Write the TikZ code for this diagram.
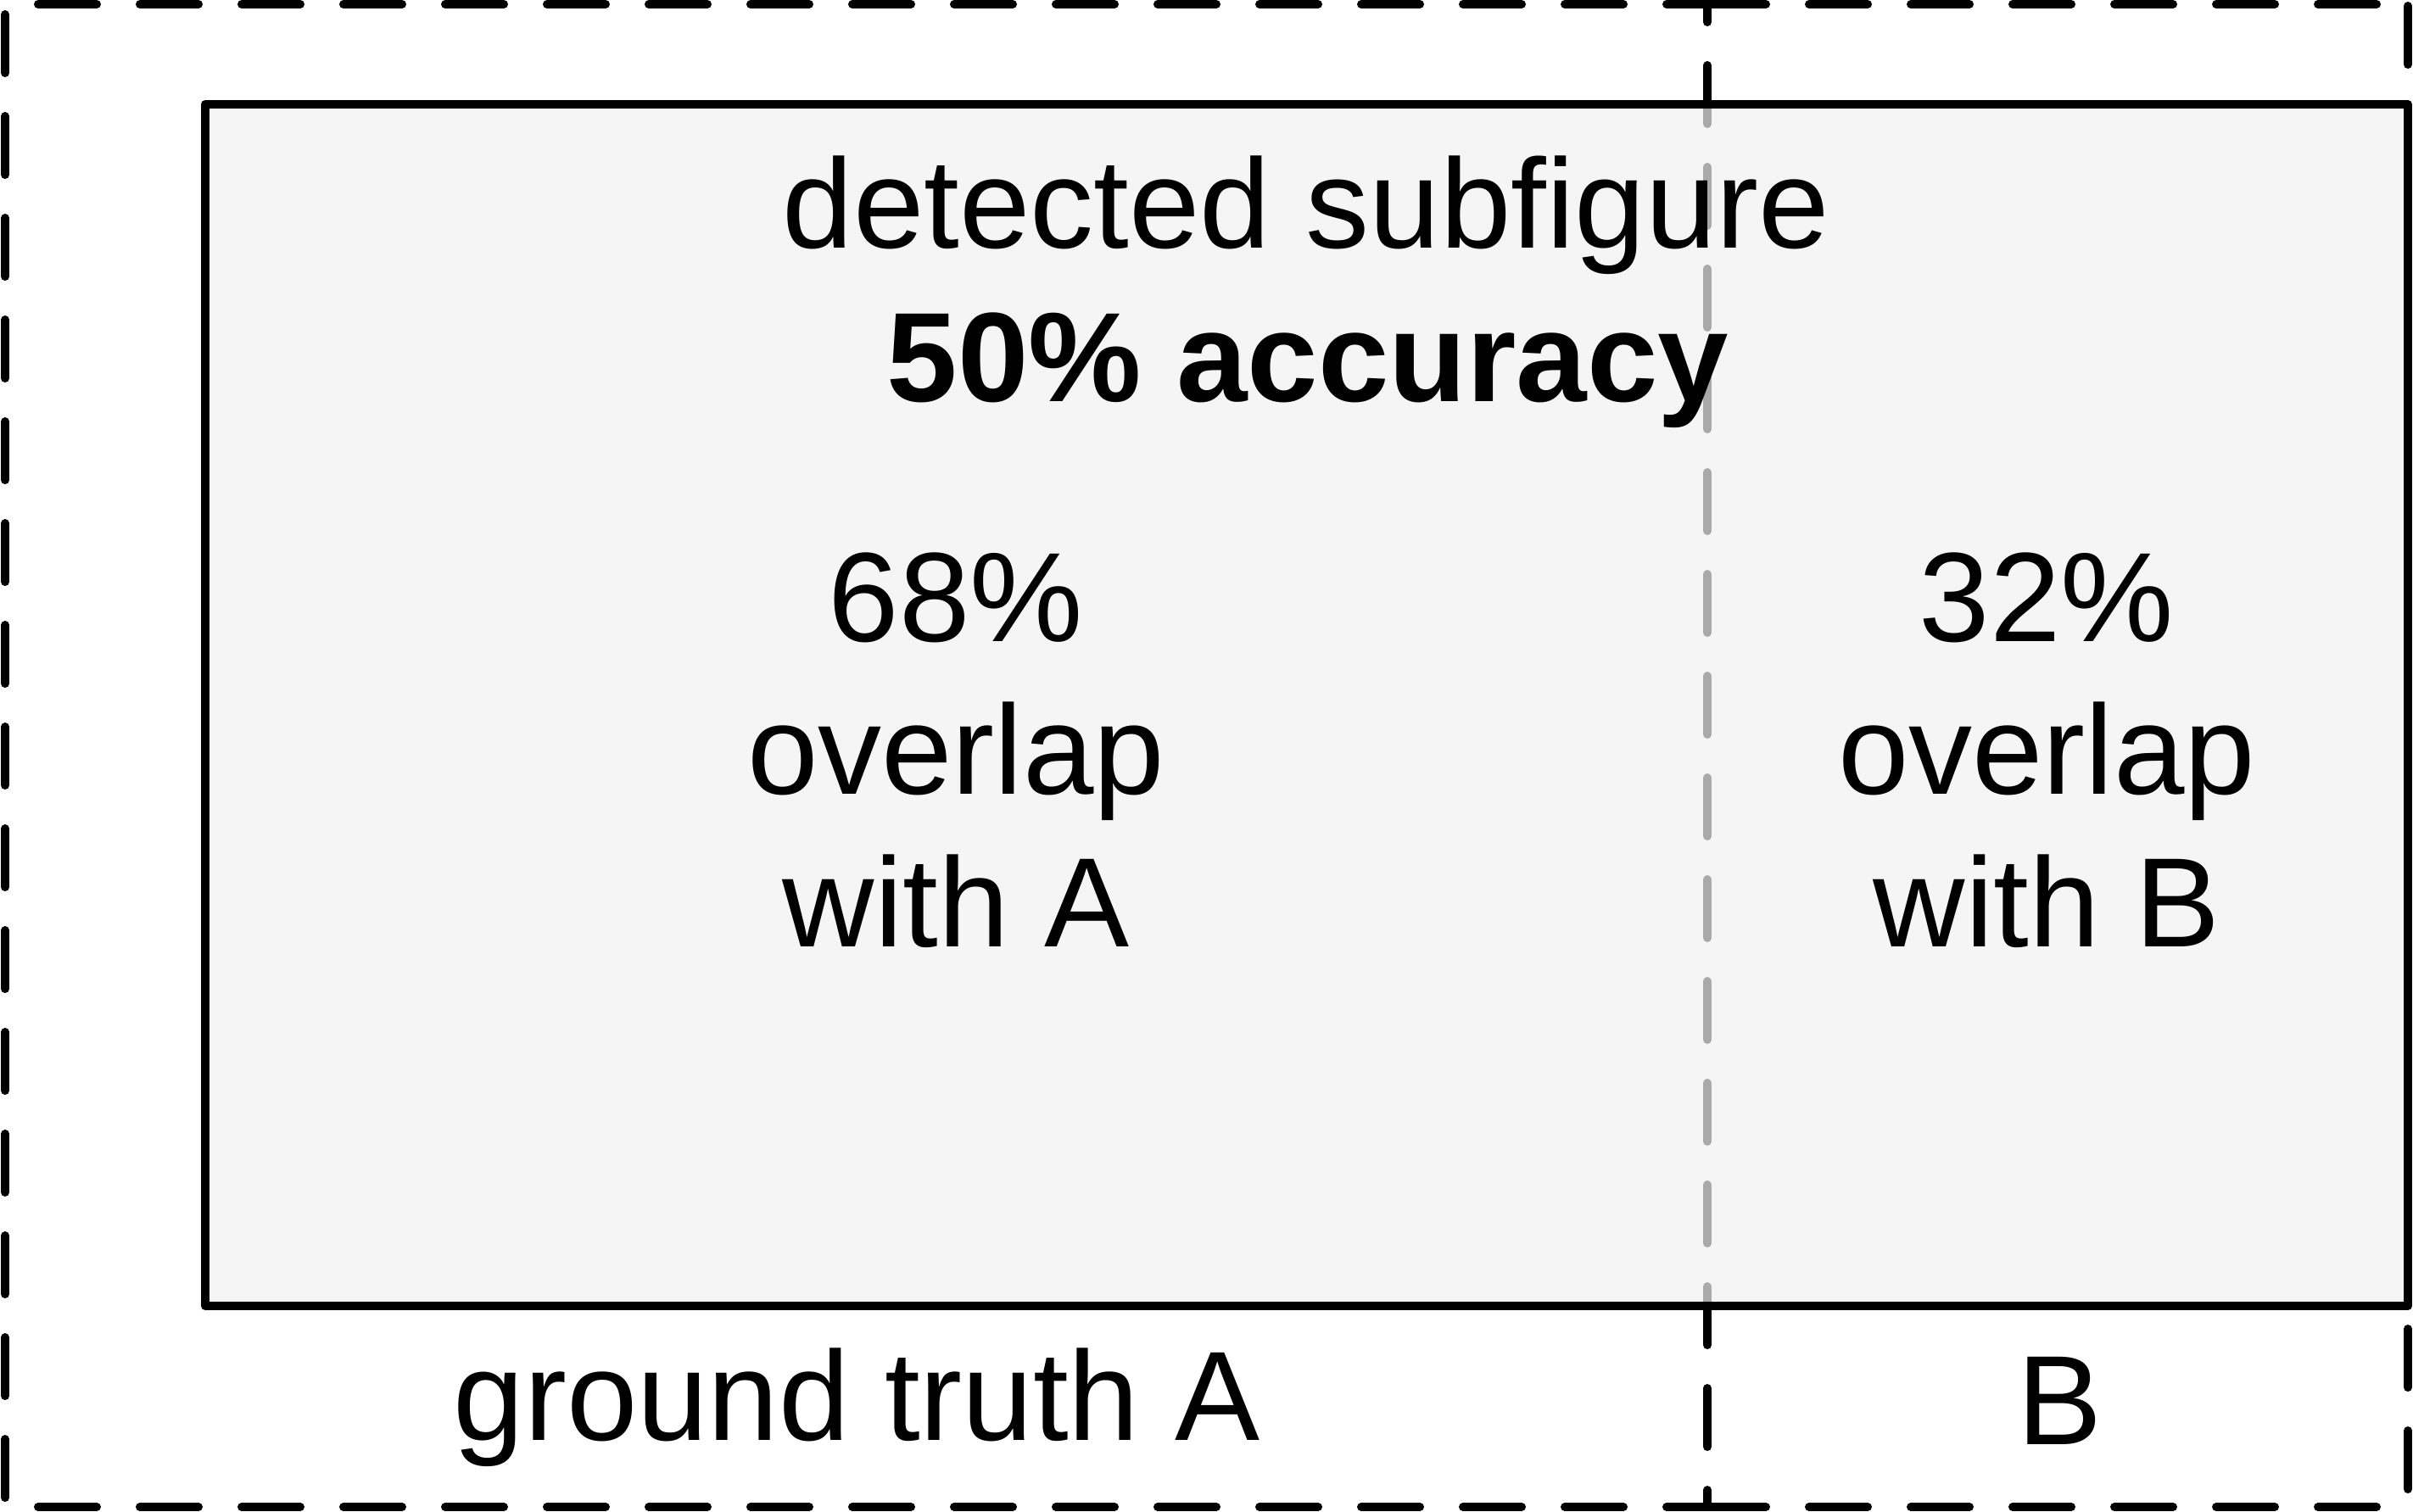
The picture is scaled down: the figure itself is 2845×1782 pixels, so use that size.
\documentclass[tikz,border=0pt]{standalone}
\usepackage{fontspec}
\setmainfont{Liberation Sans}
\definecolor{rectfill}{RGB}{241,241,241}
\begin{document}
\begin{tikzpicture}[x=0.25pt,y=-0.25pt,
  lbl/.style={font=\fontsize{37.5}{45}\selectfont, inner sep=0pt, anchor=base},
  lblbold/.style={font=\fontsize{37.5}{45}\selectfont\bfseries, inner sep=0pt, anchor=base},
  dline/.style={line width=2.5pt, line cap=round, dash pattern=on 17.25pt off 12.75pt},
  subbox/.style={fill=rectfill, fill opacity=0.706, draw=black, line width=2.5pt, line join=round},
]
\useasboundingbox (0,0) rectangle (2845,1782);
\fill[white] (0,0) rectangle (2845,1782);

% corner coordinates of the ground-truth regions
\coordinate (aTL) at (6,5);
\coordinate (aBL) at (6,1777);
\coordinate (mT) at (2013,5);
\coordinate (mB) at (2013,1777);
\coordinate (bTR) at (2839,5);
\coordinate (bBR) at (2839,1777);

% ground truth A (dashed)
\draw[dline, dash phase=20.25pt] (aTL) -- (mT);
\draw[dline, dash phase=20.25pt] (aBL) -- (mB);
\draw[dline, dash phase=27pt] (aTL) -- (aBL);
% divider
\draw[dline, dash phase=12pt] (mT) -- (mB);
% ground truth B (dashed)
\draw[dline, dash phase=0pt] (mT) -- (bTR);
\draw[dline, dash phase=0pt] (mB) -- (bBR);
\draw[dline, dash phase=29.5pt] (bTR) -- (bBR);

% detected subfigure
\draw[subbox] (242,123) rectangle (2839,1540);

% texts
\node[lbl] (t1) at (1540,292) {detected subfigure};
\node[lblbold] (t2) at (1542,473) {50\% accuracy};

\node[lbl] (a1) at (1127,756) {68\%};
\node[lbl] (a2) at (1127,936) {overlap};
\node[lbl] (a3) at (1127,1116) {with A};

\node[lbl] (b1) at (2413,756) {32\%};
\node[lbl] (b2) at (2413,936) {overlap};
\node[lbl] (b3) at (2413,1116) {with B};

\node[lbl] (gA) at (1010,1698) {ground truth A};
\node[lbl] (gB) at (2428,1703) {B};
\end{tikzpicture}
\end{document}
